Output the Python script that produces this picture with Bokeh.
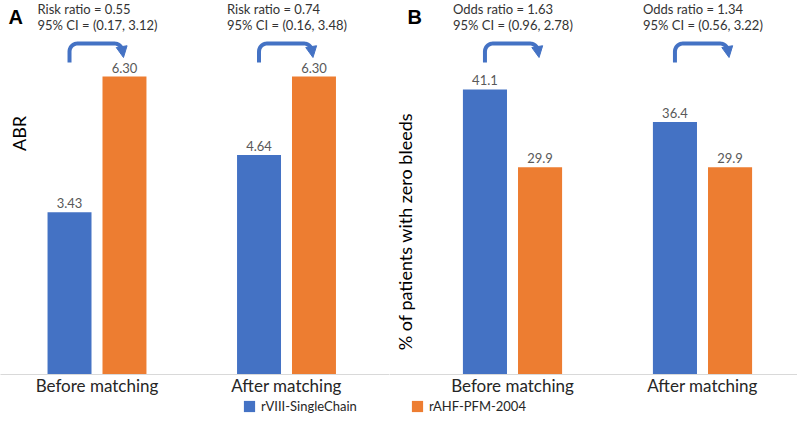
import numpy as np
from bokeh.plotting import figure
from bokeh.layouts import column, row
from bokeh.models import Range1d, FixedTicker, Arrow, NormalHead, Legend, LegendItem
from bokeh.core.properties import value
from bokeh.embed import file_html
from bokeh.resources import INLINE

# ---------------- data ----------------
categories = ["Before matching", "After matching"]
series_names = ["rVIII-SingleChain", "rAHF-PFM-2004"]

abr_single = [3.43, 4.64]
abr_pfm = [6.30, 6.30]
abr_ratio = ["Risk ratio = 0.55", "Risk ratio = 0.74"]
abr_ci = ["95% CI = (0.17, 3.12)", "95% CI = (0.16, 3.48)"]

zero_single = [41.1, 36.4]
zero_pfm = [29.9, 29.9]
zero_ratio = ["Odds ratio = 1.63", "Odds ratio = 1.34"]
zero_ci = ["95% CI = (0.96, 2.78)", "95% CI = (0.56, 3.22)"]

# ---------------- style ----------------
BLUE = "#4472C4"
ORANGE = "#ED7D31"
FONT = "Lato"
FRAME_H = 374
BAR_W = 0.232
OFF = 0.145


def panel(v1, v2, fmt, ymax, ylabel, ylab_pos, ratio_txt, ci_txt, letter,
          letter_x, frame_w, xstart, xend):
    p = figure(frame_width=frame_w, frame_height=FRAME_H,
               x_range=Range1d(xstart, xend), y_range=Range1d(0, ymax),
               output_backend="svg", toolbar_location=None,
               y_axis_location=None,
               min_border=0, min_border_left=0, min_border_right=0,
               min_border_top=0, min_border_bottom=22)
    p.outline_line_color = None
    p.grid.visible = False
    xs = np.arange(len(categories), dtype=float)

    p.vbar(x=xs - OFF, top=v1, width=BAR_W, fill_color=BLUE, line_color=None)
    p.vbar(x=xs + OFF, top=v2, width=BAR_W, fill_color=ORANGE, line_color=None)

    for xx, vals in ((xs - OFF, v1), (xs + OFF, v2)):
        p.text(x=xx, y=vals, text=[fmt.format(v) for v in vals],
               text_align="center", text_baseline="bottom", y_offset=-4,
               text_font=value(FONT), text_font_size="13px",
               text_color="#595959")

    left_x = xs - OFF - BAR_W / 2
    p.text(x=left_x, y=[ymax] * len(xs), text=ratio_txt, x_offset=-10,
           y_offset=0, text_align="left", text_baseline="top",
           text_font=value(FONT), text_font_size="13px", text_color="#333333")
    p.text(x=left_x, y=[ymax] * len(xs), text=ci_txt, x_offset=-10,
           y_offset=16, text_align="left", text_baseline="top",
           text_font=value(FONT), text_font_size="13px", text_color="#333333")

    # curved arrows (built in pixels relative to bars, converted to data)
    ppx = frame_w / (xend - xstart)
    ppy = FRAME_H / ymax
    W = 2 * OFF * ppx - 2
    r = 8.0
    top = 43.0
    th = np.linspace(0, np.pi / 2, 10)
    px = np.concatenate([[0, 0], r - r * np.cos(th), [W - r],
                         W - r + r * np.sin(th), [W]])
    py = np.concatenate([[62, top + r], top + r - r * np.sin(th), [top],
                         top + r - r * np.cos(th), [top + 10]])
    for cx in xs - OFF:
        p.line(x=cx + px / ppx, y=ymax - py / ppy, line_color=BLUE,
               line_width=4)
        p.add_layout(Arrow(end=NormalHead(size=11, fill_color=BLUE,
                                          line_color=BLUE, line_width=1),
                           x_start=cx + W / ppx, y_start=ymax - (top + 8) / ppy,
                           x_end=cx + (W + 1) / ppx, y_end=ymax - (top + 14) / ppy,
                           line_color=BLUE, line_width=4))

    # y axis title (drawn as rotated text at the left of the panel)
    p.text(x=[xstart], y=[ymax], text=[ylabel], x_offset=ylab_pos[0],
           y_offset=ylab_pos[1], angle=np.pi / 2, text_align="center",
           text_baseline="middle", text_font=value(FONT),
           text_font_size="18px", text_color="#000000")

    # panel letter
    p.text(x=[xstart], y=[ymax], text=[letter], x_offset=letter_x, y_offset=5,
           text_align="left", text_baseline="top",
           text_font=value("Liberation Sans"), text_font_style="bold",
           text_font_size="20px", text_color="#000000")

    # x axis with category labels
    p.xaxis.ticker = FixedTicker(ticks=list(xs))
    p.xaxis.major_label_overrides = {float(i): c for i, c in enumerate(categories)}
    p.xaxis.major_label_overrides.update({int(i): c for i, c in enumerate(categories)})
    p.xaxis.major_tick_line_color = None
    p.xaxis.minor_tick_line_color = None
    p.xaxis.major_tick_out = 0
    p.xaxis.major_tick_in = 0
    p.xaxis.minor_tick_out = 0
    p.xaxis.axis_line_color = "#D9D9D9"
    p.xaxis.major_label_standoff = 0
    p.xaxis.major_label_text_font = FONT
    p.xaxis.major_label_text_font_size = "17px"
    p.xaxis.major_label_text_color = "#262626"
    return p


pA = panel(abr_single, abr_pfm, "{:.2f}", 7.907, "ABR", (18, 133),
           abr_ratio, abr_ci, "A", 8, 389, -0.5092, 1.5435)
pB = panel(zero_single, zero_pfm, "{:.1f}", 53.93,
           "% of patients with zero bleeds", (15, 231), zero_ratio, zero_ci,
           "B", 18, 408, -0.6474, 1.5)

pL = figure(width=797, height=32, x_range=Range1d(0, 1), y_range=Range1d(0, 1),
            output_backend="svg", toolbar_location=None, min_border=0,
            x_axis_location=None, y_axis_location=None)
pL.outline_line_color = None
pL.grid.visible = False
r1 = pL.vbar(x=[10], top=[1], width=0.1, fill_color=BLUE, line_color=None)
r2 = pL.vbar(x=[10], top=[1], width=0.1, fill_color=ORANGE, line_color=None)
for rend, name, loc in ((r1, series_names[0], (242, 16)),
                        (r2, series_names[1], (410, 16))):
    leg = Legend(items=[LegendItem(label=name, renderers=[rend])],
                 location=loc, glyph_width=14, glyph_height=14,
                 label_height=14, label_standoff=5, padding=0, margin=0,
                 border_line_color=None, background_fill_alpha=0,
                 label_text_font=FONT, label_text_font_size="13px",
                 label_text_color="#262626")
    pL.add_layout(leg)

layout = column(row(pA, pB), pL)
open("out.html", "w").write(file_html(layout, INLINE))
